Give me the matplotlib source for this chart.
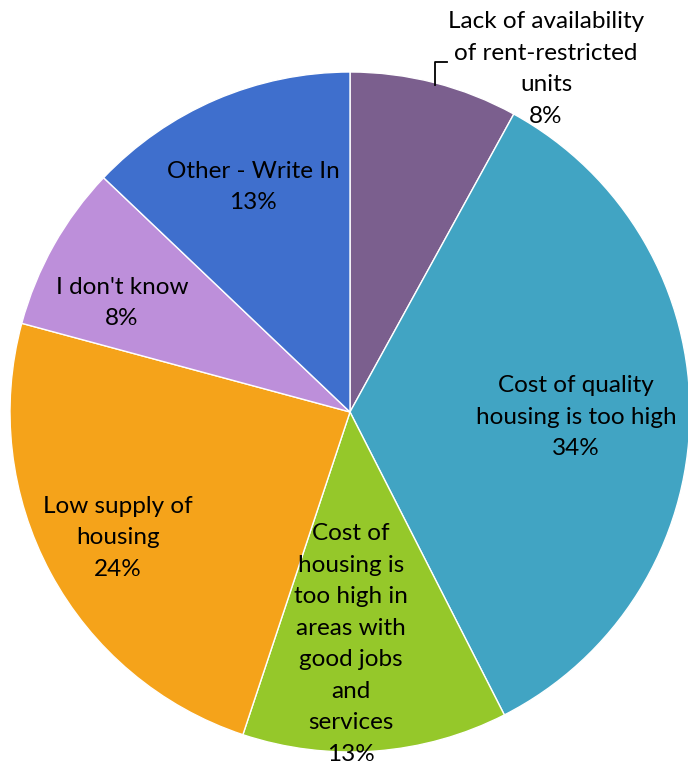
import matplotlib
matplotlib.use("Agg")
import matplotlib.pyplot as plt

plt.rcParams['font.family'] = ['Lato', 'DejaVu Sans']

categories = [
    'Lack of availability\nof rent-restricted\nunits',
    'Cost of quality\nhousing is too high',
    'Cost of\nhousing is\ntoo high in\nareas with\ngood jobs\nand\nservices',
    'Low supply of\nhousing',
    "I don't know",
    'Other - Write In',
]
shares = [8.0, 34.5, 12.6, 24.1, 7.9, 12.9]
pct_labels = ['8%', '34%', '13%', '24%', '8%', '13%']
colors = ['#7B5F8E', '#41A4C3', '#95C82A', '#F5A31A', '#BD8FDA', '#3F6FCD']

H = 772
# label centres in pixel coords (x, y measured from top)
label_pos = [(546, 69), (576, 417), (351, 644), (118, 538), (122, 303), (253, 187)]

fig = plt.figure(figsize=(6.88, 7.72), dpi=100)
ax = fig.add_axes([0, 0, 1, 1])

ax.pie(shares, colors=colors, startangle=90, counterclock=False,
       center=(350, H - 412), radius=340, frame=True,
       wedgeprops=dict(edgecolor='white', linewidth=1))
ax.set_xlim(0, 688)
ax.set_ylim(0, H)
ax.set_aspect('equal')
ax.axis('off')

for name, pct, (x, y) in zip(categories, pct_labels, label_pos):
    ax.text(x, H - y, f'{name}\n{pct}', ha='center', va='center',
            fontsize=17.5, linespacing=1.62, color='black')

# leader line for the small top slice
ax.plot([435, 435, 447], [H - 85, H - 62, H - 62], color='black', lw=1.3)

fig.savefig('out.png', dpi=100)
